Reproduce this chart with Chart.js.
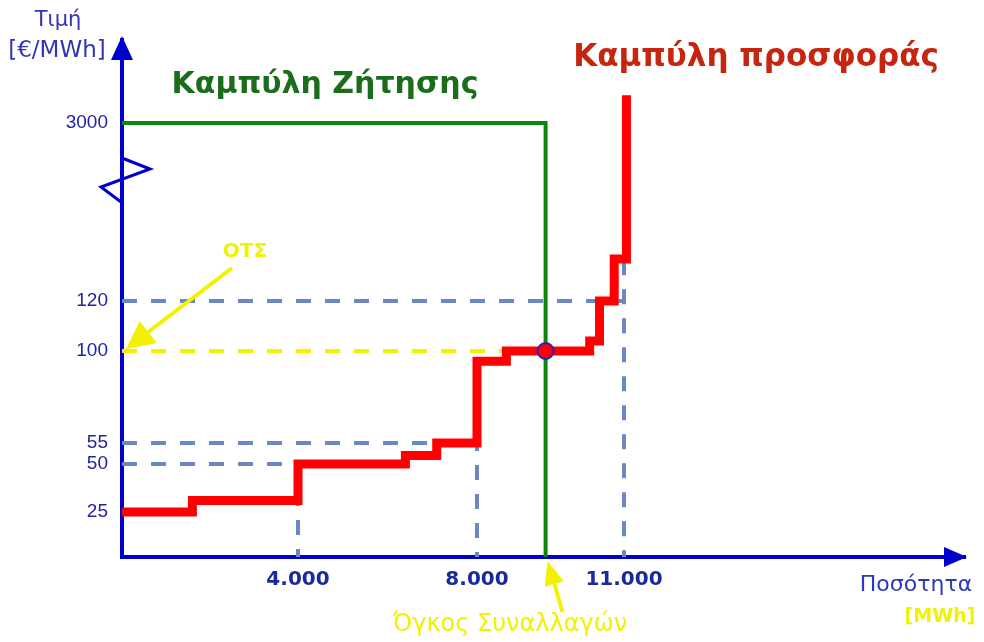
<!DOCTYPE html>
<html>
<head>
<meta charset="utf-8">
<script src="https://cdn.jsdelivr.net/npm/chart.js@4"></script>
<style>
  html, body { margin: 0; padding: 0; background: #fff; }
  #wrap { width: 984px; height: 642px; position: relative; }
</style>
</head>
<body>
<div id="wrap"><canvas id="market"></canvas></div>
<script>
// ---- data (prices in €/MWh, quantities in MWh) ----
const priceTicks = [25, 50, 55, 100, 120, 3000];
const qtyTicks = [4000, 8000, 11000];

// supply curve steps: at supplyQty[i] the price jumps to supplyPrice[i]
const supplyQty = [0, 1600, 4000, 6400, 7100, 8000, 8600, 10300, 10500, 10800, 11050];
const supplyPrice = [25, 31, 50, 52, 55, 95, 100, 104, 120, 800, 3450];

const demandQty = [0, 9400, 9400];
const demandPrice = [3000, 3000, 0];

const clearingQty = 9400;   // Όγκος Συναλλαγών
const clearingPrice = 100;  // ΟΤΣ

// ---- broken (schematic) axes: value -> axis position ----
const yBreaks = [[0, 0], [25, 45], [50, 93], [55, 114], [100, 206], [120, 256], [3000, 434], [4350, 517]];
const xBreaks = [[0, 0], [4000, 176], [8000, 355], [11000, 502], [17960, 843]];

function piecewise(knots, v) {
  for (let i = 1; i < knots.length; i++) {
    const [a, pa] = knots[i - 1], [b, pb] = knots[i];
    if (v <= b || i === knots.length - 1) return pa + (v - a) * (pb - pa) / (b - a);
  }
}
const yPos = p => piecewise(yBreaks, p);
const xPos = q => piecewise(xBreaks, q);
const pts = (qs, ps) => qs.map((q, i) => ({ x: xPos(q), y: yPos(ps[i]) }));

const fmtQty = q => String(q).replace(/\B(?=(\d{3})+(?!\d))/g, '.');

const BLUE = '#0000cc';
const GUIDE = '#6a88c4';
const YELLOW = '#f2f200';

function guide(qs, ps, color) {
  return {
    data: pts(qs, ps), showLine: true, borderColor: color, borderWidth: 4,
    borderDash: [15, 14], pointRadius: 0, fill: false
  };
}

// ---- extra drawing: arrows, axis break, labels ----
function arrow(ctx, x1, y1, x2, y2, len, half, color, lw) {
  const ang = Math.atan2(y2 - y1, x2 - x1);
  const bx = x2 - len * Math.cos(ang), by = y2 - len * Math.sin(ang);
  ctx.strokeStyle = color; ctx.fillStyle = color; ctx.lineWidth = lw;
  ctx.beginPath(); ctx.moveTo(x1, y1); ctx.lineTo(bx, by); ctx.stroke();
  ctx.beginPath();
  ctx.moveTo(x2, y2);
  ctx.lineTo(bx + half * Math.sin(ang), by - half * Math.cos(ang));
  ctx.lineTo(bx - half * Math.sin(ang), by + half * Math.cos(ang));
  ctx.closePath(); ctx.fill();
}
function label(ctx, s, x, y, font, color, align) {
  ctx.font = font; ctx.fillStyle = color;
  ctx.textAlign = align || 'center'; ctx.textBaseline = 'middle';
  ctx.fillText(s, x, y);
}

const decorations = {
  id: 'decorations',
  afterDraw(chart) {
    const ctx = chart.ctx, a = chart.chartArea;
    ctx.save();
    // axis arrowheads
    ctx.fillStyle = BLUE;
    ctx.beginPath(); ctx.moveTo(a.left, a.top - 4); ctx.lineTo(a.left - 11, a.top + 20); ctx.lineTo(a.left + 11, a.top + 20); ctx.closePath(); ctx.fill();
    ctx.beginPath(); ctx.moveTo(a.right + 2, a.bottom); ctx.lineTo(a.right - 21, a.bottom - 10); ctx.lineTo(a.right - 21, a.bottom + 10); ctx.closePath(); ctx.fill();
    // axis break mark
    ctx.strokeStyle = BLUE; ctx.lineWidth = 3; ctx.lineJoin = 'miter';
    ctx.beginPath(); ctx.moveTo(a.left, 158); ctx.lineTo(a.left + 28, 169); ctx.lineTo(a.left - 21, 187); ctx.lineTo(a.left - 1, 202); ctx.stroke();

    // axis titles
    label(ctx, 'Τιμή', 58, 21, '21px "DejaVu Sans"', '#3434b8');
    label(ctx, '[€/MWh]', 57, 51, '23px "DejaVu Sans"', '#3434b8');
    label(ctx, 'Ποσότητα', 916, 585, '22px "DejaVu Sans"', '#2a3ab8');
    label(ctx, '[MWh]', 940, 617, 'bold 19px "DejaVu Sans"', YELLOW);

    // curve names
    label(ctx, 'Καμπύλη Ζήτησης', 325, 85, 'bold 30px "DejaVu Sans"', '#1b6d1b');
    label(ctx, 'Καμπύλη προσφοράς', 756, 58, 'bold 31px "DejaVu Sans"', '#c8250f');

    // clearing price / volume annotations
    const xs = chart.scales.x, ys = chart.scales.y;
    const cx = xs.getPixelForValue(xPos(clearingQty));
    const cy = ys.getPixelForValue(yPos(clearingPrice));
    label(ctx, 'ΟΤΣ', 245, 252, 'bold 20px "DejaVu Sans"', YELLOW);
    arrow(ctx, 232, 268, a.left + 4, cy - 2, 28, 14, YELLOW, 4);
    label(ctx, 'Όγκος Συναλλαγών', 510, 625, '24px "DejaVu Sans"', YELLOW);
    arrow(ctx, cx + 17, 612, cx + 2, a.bottom + 4, 24, 10, YELLOW, 4);
    ctx.restore();
  }
};

new Chart(document.getElementById('market'), {
  type: 'scatter',
  data: {
    datasets: [
      {
        data: pts([clearingQty], [clearingPrice]), pointRadius: 8,
        pointBackgroundColor: '#ff0000', pointBorderColor: '#2020c8', pointBorderWidth: 2
      },
      {
        data: pts(supplyQty, supplyPrice), showLine: true, stepped: 'before',
        borderColor: '#ff0000', borderWidth: 9, pointRadius: 0, borderJoinStyle: 'miter'
      },
      {
        data: pts(demandQty, demandPrice), showLine: true,
        borderColor: '#0a870a', borderWidth: 4, pointRadius: 0, borderJoinStyle: 'miter'
      },
      guide([0, clearingQty], [clearingPrice, clearingPrice], YELLOW),
      guide([0, 11000], [120, 120], GUIDE),
      guide([11000, 11000], [780, 0], GUIDE),
      guide([0, 8000, 8000], [55, 55, 0], GUIDE),
      guide([0, 4000, 4000], [50, 50, 0], GUIDE)
    ]
  },
  options: {
    responsive: true,
    maintainAspectRatio: false,
    animation: false,
    layout: { padding: { top: 40, right: 19, left: 0, bottom: 0 } },
    plugins: { legend: { display: false }, tooltip: { enabled: false } },
    scales: {
      x: {
        type: 'linear', min: 0, max: 843, z: 1,
        grid: { display: false, drawTicks: false },
        border: { display: true, color: BLUE, width: 4 },
        afterFit: s => { s.height = 85; },
        afterBuildTicks: s => { s.ticks = qtyTicks.map(q => ({ value: xPos(q) })); },
        ticks: {
          autoSkip: false, maxRotation: 0, padding: 11,
          color: '#1a2a9c', font: { family: 'DejaVu Sans', size: 20, weight: 'bold' },
          callback: (v, i) => fmtQty(qtyTicks[i])
        }
      },
      y: {
        type: 'linear', min: 0, max: 517, z: 1,
        grid: { display: false, drawTicks: false },
        border: { display: true, color: BLUE, width: 4 },
        afterFit: s => { s.width = 122; },
        afterBuildTicks: s => { s.ticks = priceTicks.map(p => ({ value: yPos(p) })); },
        ticks: {
          autoSkip: false, padding: 14,
          color: '#2222aa', font: { family: 'Liberation Sans', size: 19 },
          callback: (v, i) => String(priceTicks[i])
        }
      }
    }
  },
  plugins: [decorations]
});
</script>
</body>
</html>
